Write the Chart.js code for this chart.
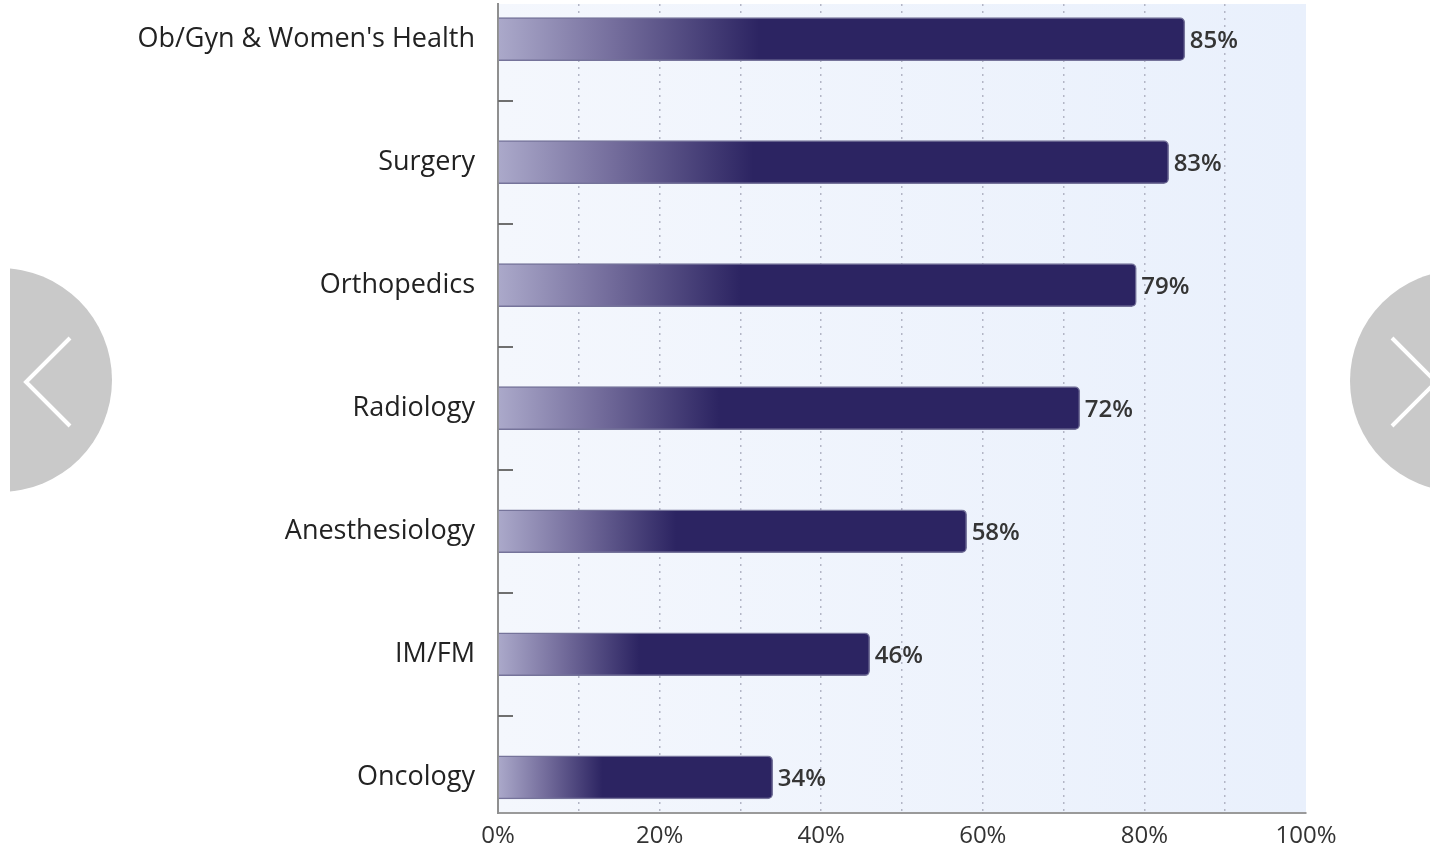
<!DOCTYPE html>
<html>
<head>
<meta charset="utf-8">
<script src="https://cdn.jsdelivr.net/npm/chart.js@4/dist/chart.umd.min.js"></script>
<style>
    html, body { margin: 0; padding: 0; background: #fff; }
    #wrap { position: relative; width: 1430px; height: 850px; overflow: hidden; }
    #chart { position: absolute; left: 0; top: 0; }
    #nav { position: absolute; left: 0; top: 0; pointer-events: none; }
</style>
</head>
<body>
<div id="wrap">
    <canvas id="chart" width="1430" height="850"></canvas>
    <!-- carousel arrows -->
    <svg id="nav" width="1430" height="850">
        <defs>
            <clipPath id="leftClip"><rect x="10" y="0" width="200" height="850"/></clipPath>
        </defs>
        <circle cx="0" cy="380" r="112" fill="#c9c9c9" clip-path="url(#leftClip)"/>
        <polyline points="70,338 26,382 70,426" fill="none" stroke="#fff" stroke-width="4"/>
        <circle cx="1461" cy="381" r="111" fill="#c9c9c9"/>
        <polyline points="1392,338 1436,382 1392,426" fill="none" stroke="#fff" stroke-width="4"/>
    </svg>
</div>

<script>
/* ---------- DATA ---------- */

const categories = [
    "Ob/Gyn & Women's Health",
    "Surgery",
    "Orthopedics",
    "Radiology",
    "Anesthesiology",
    "IM/FM",
    "Oncology"
];
const values = [85, 83, 79, 72, 58, 46, 34];
const xTicks = [0, 20, 40, 60, 80, 100];

/* ---------- HELPERS ---------- */

// light lavender fading into navy over the first part of each bar
function barGradient(context) {
    const chart = context.chart;
    const xScale = chart.scales.x;
    if (!chart.chartArea || !xScale || !context.raw) return "#2c2462";
    const x0 = xScale.getPixelForValue(0);
    const x1 = xScale.getPixelForValue(context.raw.x);
    const g = chart.ctx.createLinearGradient(x0, 0, x0 + (x1 - x0) * 0.38, 0);
    g.addColorStop(0, "#aba9ca");
    g.addColorStop(0.45, "#746d9c");
    g.addColorStop(1, "#2c2462");
    return g;
}

/* ---------- PLUGINS ---------- */

const plotBackground = {
    id: "plotBackground",
    beforeDraw(chart) {
        const { ctx, chartArea: a } = chart;
        const g = ctx.createLinearGradient(a.left, 0, a.right, 0);
        g.addColorStop(0, "#f4f7fd");
        g.addColorStop(1, "#e9f0fc");
        ctx.save();
        ctx.fillStyle = g;
        ctx.fillRect(a.left, a.top, a.right - a.left, a.bottom - a.top);
        ctx.restore();
    }
};

// short dashes between categories on the left axis
const categoryDividers = {
    id: "categoryDividers",
    afterDraw(chart) {
        const { ctx, chartArea: a, scales: { y } } = chart;
        ctx.save();
        ctx.strokeStyle = "#6f6f6f";
        ctx.lineWidth = 2;
        for (let i = 0; i < categories.length - 1; i++) {
            const py = Math.round(y.getPixelForValue(i + 0.5));
            ctx.beginPath();
            ctx.moveTo(a.left, py);
            ctx.lineTo(a.left + 15, py);
            ctx.stroke();
        }
        ctx.restore();
    }
};

const valueLabels = {
    id: "valueLabels",
    afterDatasetsDraw(chart) {
        const { ctx } = chart;
        const meta = chart.getDatasetMeta(0);
        ctx.save();
        ctx.font = "600 24px 'Open Sans'";
        ctx.fillStyle = "#353535";
        ctx.textBaseline = "middle";
        meta.data.forEach((bar, i) => {
            ctx.fillText(values[i] + "%", bar.x + 5, bar.y + 2);
        });
        ctx.restore();
    }
};

/* ---------- CHART ---------- */

new Chart(document.getElementById("chart"), {
    type: "bar",
    data: {
        datasets: [{
            data: values.map((v, i) => ({ x: v, y: i })),
            backgroundColor: barGradient,
            borderColor: "#75739a",
            borderWidth: 1.5,
            borderSkipped: "start",
            borderRadius: 5,
            barThickness: 43
        }]
    },
    options: {
        indexAxis: "y",
        responsive: false,
        animation: false,
        layout: { padding: { top: 4, right: 124, left: 0, bottom: 0 } },
        plugins: {
            legend: { display: false },
            tooltip: { enabled: false }
        },
        scales: {
            x: {
                type: "linear",
                min: 0,
                max: 100,
                afterFit: s => { s.height = 37; s.paddingLeft = 0; s.paddingRight = 0; },
                ticks: {
                    stepSize: 10,
                    padding: 9,
                    color: "#333",
                    font: { family: "'Open Sans'", size: 24 },
                    callback: v => xTicks.includes(v) ? v + "%" : ""
                },
                grid: {
                    drawTicks: false,
                    lineWidth: 1.5,
                    color: c => (c.tick && (c.tick.value === 0 || c.tick.value === 100)) ? "rgba(0,0,0,0)" : "#b3b6c6"
                },
                border: { color: "#9a9a9a", width: 2, dash: [2, 5] }
            },
            y: {
                type: "linear",
                reverse: true,
                offset: false,
                min: -0.285,
                max: 6.29,
                afterFit: s => { s.width = 498; s.paddingTop = 0; s.paddingBottom = 0; },
                afterBuildTicks: s => { s.ticks = categories.map((c, i) => ({ value: i })); },
                ticks: {
                    padding: 23,
                    color: "#222",
                    font: { family: "'Open Sans'", size: 27 },
                    callback: v => categories[v]
                },
                grid: { display: false, drawTicks: false },
                border: { color: "#8f8f8f", width: 2 }
            }
        }
    },
    plugins: [plotBackground, categoryDividers, valueLabels]
});
</script>
</body>
</html>
